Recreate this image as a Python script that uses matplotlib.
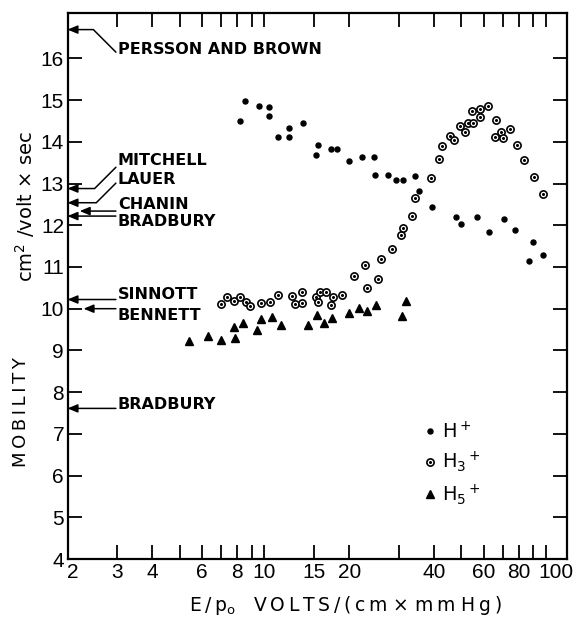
import matplotlib
matplotlib.use("Agg")
import matplotlib.pyplot as plt
from matplotlib.ticker import NullLocator
from matplotlib.transforms import ScaledTranslation

# E/p0 (V/(cm x mm Hg)) and mobility (cm^2/volt x sec)
# H+  (dots)
hp_x = [8.2, 8.5, 9.6, 10.4, 10.4, 11.2, 12.2, 12.2, 13.7, 15.5, 15.3, 17.2,
        18.1, 19.9, 22.2, 24.5, 24.6, 27.5, 29.3, 31.0, 34.3, 35.4, 39.4, 47.8,
        49.7, 56.8, 62.9, 70.6, 77.6, 89.5, 87.1, 97.2]
hp_y = [14.51, 14.97, 14.85, 14.83, 14.63, 14.11, 14.33, 14.12, 14.44, 13.93,
        13.68, 13.83, 13.82, 13.55, 13.64, 13.63, 13.21, 13.21, 13.09, 13.09,
        13.19, 12.83, 12.43, 12.20, 12.02, 12.19, 11.83, 12.14, 11.88, 11.59,
        11.15, 11.29]

# H3+ (circled dots)
h3_x = [7.04, 7.37, 7.78, 8.18, 8.57, 8.87, 9.69, 10.44, 11.2, 12.5, 13.64,
        12.82, 13.64, 15.22, 15.73, 16.52, 15.55, 17.44, 17.21, 18.84,
        20.8, 23.2, 25.2, 22.8, 25.9, 28.4, 30.5, 31.15, 33.3, 34.1, 39.1,
        41.7, 42.6, 45.4, 47.2, 49.3, 51.7, 52.8, 55.0, 54.7, 58.1, 58.4,
        62.2, 66.6, 65.7, 69.0, 70.3, 74.5, 78.7, 83.2, 90.3, 97.7]
h3_y = [10.12, 10.28, 10.19, 10.28, 10.16, 10.06, 10.14, 10.16, 10.32, 10.30,
        10.40, 10.12, 10.14, 10.28, 10.41, 10.40, 10.16, 10.28, 10.10, 10.33,
        10.79, 10.50, 10.70, 11.05, 11.19, 11.43, 11.76, 11.93, 12.23, 12.65,
        13.13, 13.58, 13.91, 14.14, 14.05, 14.39, 14.23, 14.44, 14.45, 14.73,
        14.79, 14.59, 14.85, 14.53, 14.12, 14.23, 14.08, 14.30, 13.93, 13.57,
        13.16, 12.75]

# H5+ (triangles)
h5_x = [5.38, 6.31, 7.02, 7.85, 7.77, 8.40, 9.43, 9.69, 10.61, 11.42, 14.32,
        15.42, 16.29, 17.30, 19.88, 21.7, 23.05, 24.9, 30.8, 31.8]
h5_y = [9.23, 9.34, 9.26, 9.29, 9.56, 9.65, 9.50, 9.75, 9.79, 9.60, 9.60,
        9.86, 9.66, 9.77, 9.90, 10.02, 9.95, 10.10, 9.82, 10.18]

# literature values marked by arrows on the left axis
ref_names = ["PERSSON AND BROWN", "MITCHELL", "LAUER", "CHANIN", "BRADBURY",
             "SINNOTT", "BENNETT", "BRADBURY"]
ref_values = [16.69, 12.88, 12.54, 12.34, 12.22, 10.22, 10.00, 7.61]

x_ticks = [2, 3, 4, 5, 6, 7, 8, 9, 10, 15, 20, 30, 40, 50, 60, 70, 80, 90, 100]
x_tick_labels = ["2", "3", "4", "", "6", "", "8", "", "10", "15", "20", "",
                 "40", "", "60", "", "80", "", "100"]
y_ticks = list(range(4, 17))

plt.rcParams['font.family'] = ['DejaVu Sans']
plt.rcParams['mathtext.default'] = 'regular'
TS = '\u2009'   # thin space, to open up the lettering a bit

fig = plt.figure(figsize=(5.86, 6.17), dpi=100)
ax = fig.add_axes([0.1152, 0.094, 0.8532, 0.8844])

hp, = ax.plot(hp_x, hp_y, ls='none', marker='o', ms=3.6, color='black')
h3o, = ax.plot(h3_x, h3_y, ls='none', marker='o', ms=5.2, mfc='white',
               mec='black', mew=1.2)
h3d, = ax.plot(h3_x, h3_y, ls='none', marker='o', ms=1.2, color='black')
h5, = ax.plot(h5_x, h5_y, ls='none', marker='^', ms=6, color='black')

ax.set_xscale('log')
ax.set_xlim(2, 119)
ax.set_ylim(4, 17.08)
ax.set_xticks(x_ticks, x_tick_labels)
ax.xaxis.set_minor_locator(NullLocator())
ax.set_yticks(y_ticks)
ax.tick_params(which='both', direction='in', top=True, right=True,
               length=10, width=1.3, labelsize=15)
ax.tick_params(axis='x', pad=3)
ax.tick_params(axis='y', pad=2.5)
for lbl in ax.get_xticklabels() + ax.get_yticklabels():
    lbl.set_fontfamily('Liberation Sans')
for s in ax.spines.values():
    s.set_linewidth(1.6)

# text position, arrow tip x, arrow tail, bend angle (None = straight)
ref_text_y = [16.22, 13.56, 13.10, 12.50, 12.08, 10.35, 9.84, 7.71]
ref_tip_x = [2.0, 2.0, 2.0, 2.21, 2.0, 2.0, 2.28, 2.0]
ref_tail_y = [16.15, 13.39, 13.01, 12.34, 12.22, 10.22, 10.00, 7.61]
ref_bend = [135, 45, 45, None, None, None, None, None]

for name, val, ty, tx, tly, bend in zip(ref_names, ref_values, ref_text_y,
                                         ref_tip_x, ref_tail_y, ref_bend):
    ax.text(3.02, ty, name, ha='left', va='center', fontsize=11.5,
            fontweight='bold')
    if bend is None:
        cs = 'arc3'
    else:
        cs = 'angle,angleA=%d,angleB=0,rad=0' % bend
    ax.annotate('', xy=(tx, val), xytext=(2.97, tly),
                arrowprops=dict(arrowstyle='-|>,head_length=0.6,head_width=0.25',
                                connectionstyle=cs, color='black', lw=1.1,
                                shrinkA=0, shrinkB=0, mutation_scale=10))

ax.legend([hp, (h3o, h3d), h5], ['H$^+$', 'H$_3$$^+$', 'H$_5$$^+$'],
          loc='upper left', bbox_to_anchor=(0.716, 0.2533), frameon=False,
          fontsize=14, numpoints=1, handlelength=0.5, handletextpad=0.35,
          labelspacing=0.4, borderpad=0, borderaxespad=0)

xlab = (TS.join('E/p') + '$_o$   ' + TS.join('VOLTS/(cm') + ' × ' +
        TS.join('mm') + ' ' + TS.join('Hg)'))
ax.set_xlabel(xlab, fontsize=13.5, va='center')
ax.xaxis.set_label_coords(0.555, -0.086)
ax.set_ylabel(TS.join('MOBILITY'), fontsize=13, va='center')
ax.yaxis.set_label_coords(-0.093, 0.269)
ax.text(-0.085, 0.645, 'cm$^2$ /volt × sec', transform=ax.transAxes,
        rotation=90, ha='center', va='center', fontsize=14)

# the end labels sit a little right of their ticks in the original
xlabels = ax.get_xticklabels()
for i, dx in ((0, 4), (len(xlabels) - 1, 7)):
    xlabels[i].set_transform(xlabels[i].get_transform() +
                             ScaledTranslation(dx / 72, 0, fig.dpi_scale_trans))

fig.savefig('out.png', dpi=100)
